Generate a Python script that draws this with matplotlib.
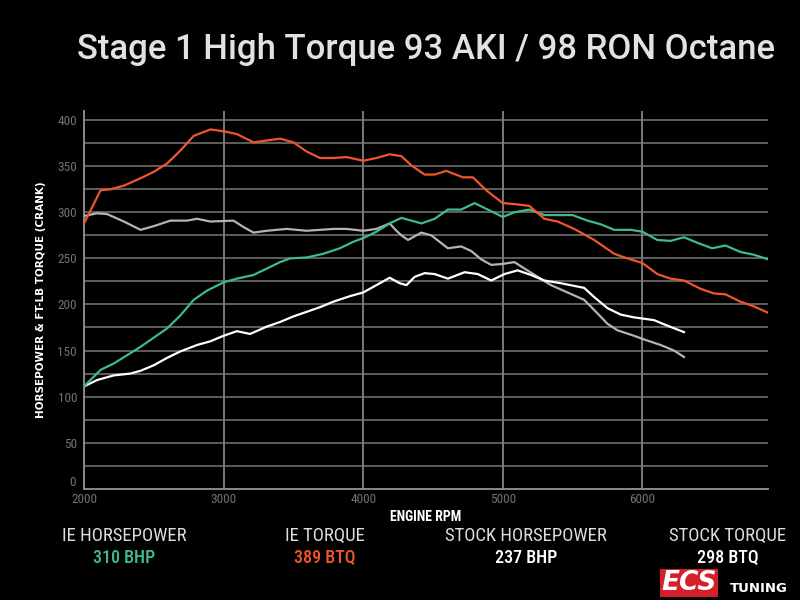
import matplotlib
matplotlib.use("Agg")
import matplotlib.pyplot as plt
import numpy as np

# ── data read from the dyno sheet ───────────────────────────────────
ie_tq_rpm = [2000, 2119, 2190, 2286, 2405, 2500, 2595, 2690, 2786, 2905, 3000, 3095,
             3214, 3310, 3405, 3500, 3595, 3690, 3786, 3881, 4000, 4095, 4190, 4274,
             4345, 4440, 4512, 4595, 4714, 4786, 4881, 5000, 5083, 5190, 5298, 5393,
             5512, 5655, 5798, 5893, 6000, 6107, 6202, 6298, 6417, 6512, 6595, 6702,
             6798, 6900]
ie_tq = [288, 324, 325, 329, 337, 344, 353, 367, 383, 390, 388, 385,
         376, 378, 380, 376, 366, 359, 359, 360, 356, 359, 363, 361,
         351, 341, 341, 345, 338, 338, 324, 310, 309, 307, 293, 290,
         282, 270, 255, 250, 245, 233, 228, 226, 217, 212, 211, 203,
         198, 191]

ie_hp_rpm = [2000, 2119, 2214, 2310, 2405, 2500, 2595, 2690, 2786, 2881, 3000, 3095,
             3214, 3310, 3405, 3476, 3595, 3714, 3833, 3929, 4000, 4095, 4190, 4274,
             4345, 4417, 4512, 4607, 4702, 4798, 4893, 5000, 5083, 5190, 5298, 5393,
             5500, 5607, 5702, 5798, 5917, 6000, 6107, 6202, 6298, 6393, 6500, 6595,
             6702, 6798, 6900]
ie_hp = [111, 129, 136, 145, 154, 164, 174, 188, 205, 215, 224, 228,
         232, 239, 246, 250, 251, 255, 261, 268, 272, 279, 288, 294,
         291, 288, 293, 303, 303, 310, 303, 295, 300, 303, 297, 297,
         297, 291, 287, 281, 281, 279, 270, 269, 273, 267, 261, 264,
         257, 254, 249]

stock_tq_rpm = [2000, 2095, 2167, 2286, 2405, 2500, 2619, 2738, 2810, 2905, 3071, 3143,
                3214, 3310, 3452, 3595, 3786, 3881, 4000, 4095, 4190, 4238, 4274, 4321,
                4417, 4488, 4607, 4702, 4774, 4845, 4917, 5000, 5083, 5155, 5250, 5345,
                5464, 5583, 5655, 5750, 5821, 5940, 6012, 6131, 6226, 6298]
stock_tq = [296, 299, 298, 290, 281, 285, 291, 291, 293, 290, 291, 284,
            278, 280, 282, 280, 282, 282, 280, 282, 288, 280, 275, 270,
            278, 275, 261, 263, 258, 249, 243, 244, 246, 239, 230, 221,
            213, 205, 194, 179, 172, 166, 162, 156, 150, 143]

stock_hp_rpm = [2000, 2095, 2214, 2333, 2405, 2500, 2595, 2690, 2810, 2905, 3000, 3095,
                3190, 3310, 3405, 3500, 3595, 3690, 3786, 3905, 4000, 4095, 4190, 4262,
                4310, 4369, 4440, 4512, 4607, 4726, 4821, 4917, 5012, 5107, 5202, 5298,
                5417, 5583, 5655, 5750, 5845, 5940, 6083, 6179, 6298]
stock_hp = [111, 118, 123, 125, 128, 134, 142, 149, 156, 160, 166, 171,
            168, 176, 181, 187, 192, 197, 203, 209, 213, 221, 229, 223,
            221, 230, 234, 233, 228, 235, 233, 226, 233, 237, 232, 226,
            223, 218, 208, 196, 189, 186, 183, 177, 170]

legend_names = ["IE HORSEPOWER", "IE TORQUE", "STOCK HORSEPOWER", "STOCK TORQUE"]
legend_values = ["310 BHP", "389 BTQ", "237 BHP", "298 BTQ"]

GREEN = "#3dbb8c"
RED = "#f0552b"
GRAY = "#b4b4b4"
WHITE = "#ffffff"
TICK = "#727272"
legend_colors = [GREEN, RED, WHITE, WHITE]

NARROW = ["Roboto Condensed", "Roboto", "DejaVu Sans"]

# ── figure ─────────────────────────────────────────────────────────
fig = plt.figure(figsize=(8, 6), dpi=100, facecolor="black")
ax = fig.add_axes([0.105, 0.1855, 0.855, 0.6295], facecolor="black")

for yv in np.arange(25, 425, 25):
    ax.axhline(yv, color="#5e5e5e", lw=1.4, zorder=1)
for xv in [3000, 4000, 5000, 6000]:
    ax.axvline(xv, color="#7a7a7a", lw=1.4, zorder=1)

ax.plot(stock_tq_rpm, stock_tq, color=GRAY, lw=1.6, zorder=3)
ax.plot(stock_hp_rpm, stock_hp, color=WHITE, lw=1.6, zorder=3)
ax.plot(ie_hp_rpm, ie_hp, color=GREEN, lw=1.6, zorder=4)
ax.plot(ie_tq_rpm, ie_tq, color=RED, lw=1.6, zorder=4)

ax.set_xlim(2000, 6900)
ax.set_ylim(0, 410)
ax.set_xticks([2000, 3000, 4000, 5000, 6000])
ax.set_yticks(np.arange(50, 401, 50))
ax.tick_params(colors=TICK, labelsize=9.5, length=0)
ax.tick_params(axis="x", pad=3)
ax.tick_params(axis="y", pad=5)
for lab in ax.get_xticklabels() + ax.get_yticklabels():
    lab.set_family(NARROW)
for side in ["top", "right"]:
    ax.spines[side].set_visible(False)
ax.spines["left"].set_color("#8a8a8a")
ax.spines["bottom"].set_color("#8a8a8a")
ax.spines["left"].set_linewidth(1.4)
ax.spines["bottom"].set_linewidth(1.4)

# the zero label sits just above the baseline, next to the 2000 label
ax.text(-0.012, 0.0, "0", transform=ax.transAxes, color=TICK, fontsize=9.5,
        ha="right", va="bottom", family=NARROW)

ax.set_xlabel("ENGINE RPM", color="white", fontsize=10, fontweight="bold",
              family=NARROW, labelpad=3)
ax.set_ylabel("HORSEPOWER & FT-LB TORQUE (CRANK)", color="white", fontsize=7.5,
              fontweight="bold", family=["DejaVu Sans"], labelpad=8)

fig.text(775 / 800, 1 - 50 / 600, "Stage 1 High Torque 93 AKI / 98 RON Octane",
         color="#e2e2e2", fontsize=25, fontweight="medium", ha="right", va="center",
         family=["Roboto", "DejaVu Sans"])

xs = [124, 325, 526, 728]
for x, name, val, c in zip(xs, legend_names, legend_values, legend_colors):
    fig.text(x / 800, 1 - 536 / 600, name, color="#dddddd", fontsize=13.5,
             ha="center", va="center", family=NARROW)
    fig.text(x / 800, 1 - 558 / 600, val, color=c, fontsize=13, fontweight="medium",
             ha="center", va="center", family=NARROW)

# logo
fig.text(689 / 800, 1 - 583 / 600, "ECS", color="white", fontsize=19, fontweight="bold",
         style="italic", ha="center", va="center", family=["DejaVu Sans"],
         bbox=dict(boxstyle="square,pad=0.05", fc="#d4202a", ec="none"))
fig.text(759 / 800, 1 - 588 / 600, "TUNING", color="white", fontsize=9.5, fontweight="bold",
         ha="center", va="center", family=["DejaVu Sans"])

fig.savefig("out.png", dpi=100, facecolor="black")
